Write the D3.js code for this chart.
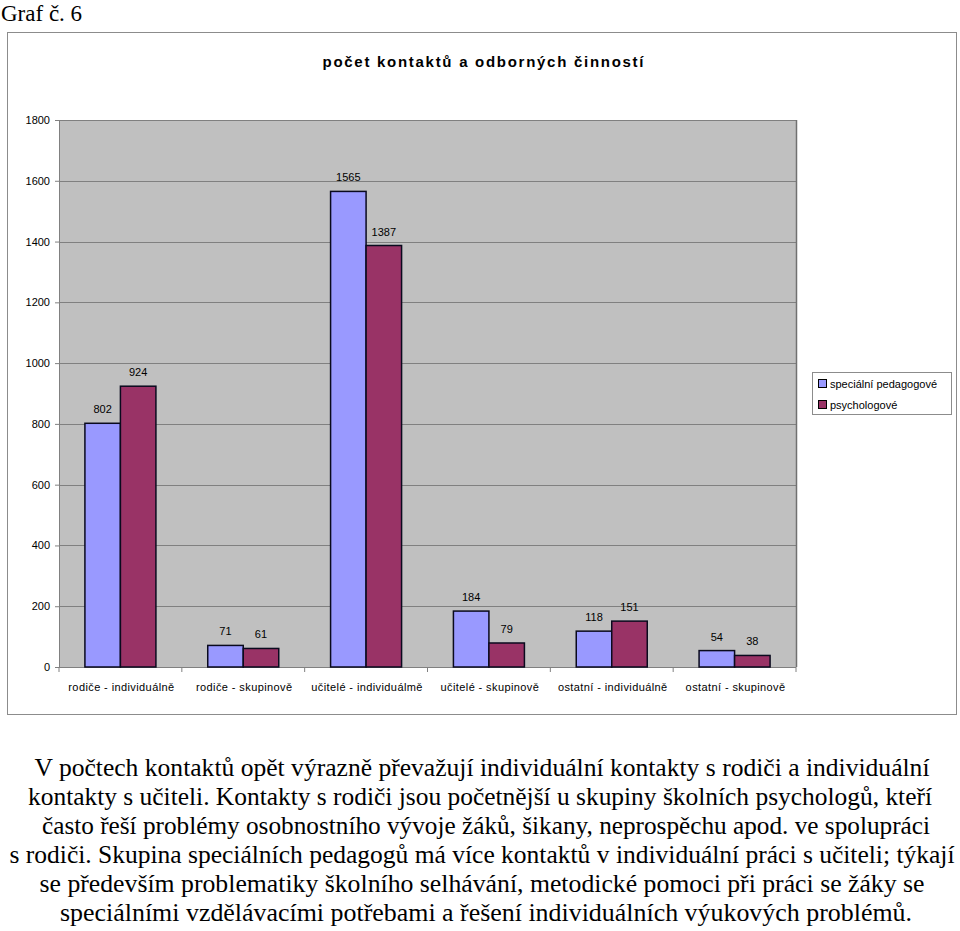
<!DOCTYPE html>
<html><head><meta charset="utf-8">
<script src="https://cdn.jsdelivr.net/npm/d3@7"></script>
<style>
body{margin:0;background:#fff;}
svg{display:block;}
</style></head>
<body>
<svg id="c" width="960" height="931"></svg>
<script>
const categories = ["rodiče - individuálně","rodiče - skupinově","učitelé -  individuálmě","učitelé - skupinově","ostatní - individuálně","ostatní - skupinově"];
const seriesNames = ["speciální pedagogové","psychologové"];
const specialniPedagogove = [802,71,1565,184,118,54];
const psychologove = [924,61,1387,79,151,38];
const yTicks = [0,200,400,600,800,1000,1200,1400,1600,1800];
const colors = ["#9999FF","#993366"];
const title = "počet kontaktů a odborných činností";
const heading = "Graf č. 6";
const paragraphLines = [
 "V počtech kontaktů opět výrazně převažují individuální kontakty s rodiči a individuální",
 "kontakty s učiteli. Kontakty s rodiči jsou početnější u skupiny školních psychologů, kteří",
 "často řeší problémy osobnostního vývoje žáků, šikany, neprospěchu apod. ve spolupráci",
 "s rodiči. Skupina speciálních pedagogů má více kontaktů v individuální práci s učiteli; týkají",
 "se  především problematiky školního selhávání, metodické pomoci při práci se žáky se",
 "speciálními vzdělávacími potřebami a řešení individuálních výukových problémů."
];

const SERIF = "'Liberation Serif', 'Times New Roman', serif";
const SANS = "'Liberation Sans', Arial, sans-serif";
const svg = d3.select("#c");
const series = [specialniPedagogove, psychologove];

// heading
svg.append("text").attr("x",1).attr("y",21).attr("font-family",SERIF)
  .attr("font-size",23).attr("fill","#000").text(heading);

// outer chart frame
svg.append("rect").attr("x",7.5).attr("y",32.5).attr("width",949).attr("height",682)
  .attr("fill","#fff").attr("stroke","#8c8c8c").attr("stroke-width",1);

// title
svg.append("text").attr("x",483).attr("y",67).attr("text-anchor","middle")
  .attr("font-family",SANS).attr("font-weight","bold").attr("font-size",15)
  .attr("textLength",321).attr("lengthAdjust","spacing").text(title);

const L=59, R=796, T=120, B=667;
const y = d3.scaleLinear().domain([0,1800]).range([B,T]);
const x0 = d3.scaleBand().domain(categories).range([L,R]).padding(0);
const x1 = d3.scaleBand().domain([0,1]).range([0,x0.bandwidth()]).paddingInner(0).paddingOuter(0.73);

// plot background
svg.append("rect").attr("x",L).attr("y",T).attr("width",R-L).attr("height",B-T).attr("fill","#C0C0C0");

// gridlines
svg.append("g").selectAll("line").data(yTicks.filter(d=>d>0)).join("line")
  .attr("x1",L).attr("x2",R).attr("y1",d=>Math.round(y(d))+0.5).attr("y2",d=>Math.round(y(d))+0.5)
  .attr("stroke","#808080").attr("stroke-width",1);

// plot border (left/right)
svg.append("line").attr("x1",L+0.5).attr("x2",L+0.5).attr("y1",T).attr("y2",B).attr("stroke","#808080");
svg.append("line").attr("x1",R+0.5).attr("x2",R+0.5).attr("y1",T).attr("y2",B).attr("stroke","#707070").attr("stroke-width",1.5);

// y axis
const yAxis = d3.axisLeft(y).tickValues(yTicks).tickFormat(d3.format("d")).tickSize(4).tickPadding(5);
const gy = svg.append("g").attr("transform",`translate(${L},0)`).call(yAxis);
gy.select(".domain").attr("stroke","#808080");
gy.selectAll(".tick line").attr("stroke","#808080");
gy.selectAll("text").attr("font-family",SANS).attr("font-size",11).attr("fill","#000");

// x axis
const gx = svg.append("g").attr("transform",`translate(0,${B})`);
gx.append("line").attr("x1",L).attr("x2",R).attr("y1",0.5).attr("y2",0.5).attr("stroke","#808080");
gx.selectAll("line.t").data(categories.concat(["__end"])).join("line").attr("class","t")
  .attr("x1",(d,i)=>L+i*x0.step()).attr("x2",(d,i)=>L+i*x0.step()).attr("y1",0).attr("y2",5).attr("stroke","#808080");
gx.selectAll("text").data(categories).join("text")
  .attr("x",d=>x0(d)+x0.bandwidth()/2+1).attr("y",24).attr("text-anchor","middle")
  .attr("font-family",SANS).attr("font-size",11).attr("letter-spacing",0.4).attr("fill","#000")
  .text(d=>d);

// bars
const groups = svg.append("g").selectAll("g").data(categories).join("g")
  .attr("transform",d=>`translate(${x0(d)},0)`);
groups.selectAll("rect").data((d,i)=>series.map((s,k)=>({k,v:s[i]}))).join("rect")
  .attr("x",d=>x1(d.k)).attr("y",d=>y(d.v)).attr("width",x1.bandwidth()).attr("height",d=>B-y(d.v))
  .attr("fill",d=>colors[d.k]).attr("stroke","#0a0a1e").attr("stroke-width",1.5);
groups.selectAll("text").data((d,i)=>series.map((s,k)=>({k,v:s[i]}))).join("text")
  .attr("x",d=>x1(d.k)+x1.bandwidth()/2).attr("y",d=>y(d.v)-10).attr("text-anchor","middle")
  .attr("font-family",SANS).attr("font-size",11).attr("fill","#000")
  .text(d=>d.v);

// legend
const lg = svg.append("g");
lg.append("rect").attr("x",812.5).attr("y",372.5).attr("width",139).attr("height",42)
  .attr("fill","#fff").attr("stroke","#8c8c8c");
seriesNames.forEach((n,i)=>{
  lg.append("rect").attr("x",818.5).attr("y",379.5+i*21).attr("width",8).attr("height",8)
    .attr("fill",colors[i]).attr("stroke","#000");
  lg.append("text").attr("x",830).attr("y",388+i*21)
    .attr("font-family",SANS).attr("font-size",11).attr("fill","#000").text(n);
});

// paragraph
const lineWidths = [895,904,888,945,885,852];
const lineCenters = [482,480,486,482,482,486];
svg.append("g").selectAll("text").data(paragraphLines).join("text")
  .attr("x",(d,i)=>lineCenters[i]).attr("y",(d,i)=>776+i*29).attr("text-anchor","middle")
  .attr("font-family",SERIF).attr("font-size",25).attr("fill","#000")
  .attr("textLength",(d,i)=>lineWidths[i]).attr("lengthAdjust","spacingAndGlyphs")
  .text(d=>d);
</script>
</body></html>
